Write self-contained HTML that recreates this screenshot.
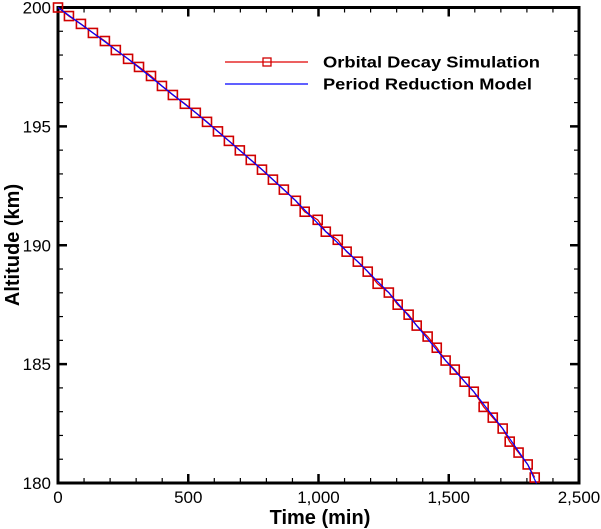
<!DOCTYPE html>
<html><head><meta charset="utf-8"><style>
html,body{margin:0;padding:0;background:#fff;}
svg{display:block;font-family:"Liberation Sans",Arial,sans-serif;}
</style></head><body>
<svg id="chart" width="601" height="529" viewBox="0 0 601 529" xmlns="http://www.w3.org/2000/svg">
<g id="grid-layer"></g>
<g id="series-layer"></g>
<g id="legend">
  <line x1="225" y1="62" x2="308" y2="62" stroke="#e00000" stroke-width="1.2"/>
  <rect x="263" y="58" width="8" height="8" fill="none" stroke="#d00000" stroke-width="1.3"/>
  <text x="323" y="67.5" font-size="16" font-weight="bold" fill="#000" textLength="217" lengthAdjust="spacingAndGlyphs">Orbital Decay Simulation</text>
  <line x1="225" y1="84" x2="308" y2="84" stroke="#0000ff" stroke-width="1.2"/>
  <text x="323" y="89.5" font-size="16" font-weight="bold" fill="#000" textLength="209" lengthAdjust="spacingAndGlyphs">Period Reduction Model</text>
</g>
<text x="320" y="524" font-size="20" font-weight="bold" text-anchor="middle">Time (min)</text>
<text transform="translate(19,245) rotate(-90)" font-size="20" font-weight="bold" text-anchor="middle">Altitude (km)</text>
</svg>
<script>
const simTimes = [0,42,88,134,180,222,269,311,357,399,441,487,529,572,614,656,698,740,783,825,867,913,947,997,1028,1074,1108,1151,1189,1227,1270,1304,1346,1377,1419,1454,1488,1523,1561,1596,1634,1669,1707,1734,1768,1803,1830];
const simAlt = [200.0,199.64,199.31,198.93,198.59,198.21,197.84,197.50,197.12,196.70,196.32,195.95,195.57,195.19,194.79,194.39,193.99,193.59,193.18,192.76,192.34,191.87,191.41,191.07,190.57,190.23,189.73,189.31,188.89,188.38,188.01,187.50,187.08,186.62,186.16,185.69,185.15,184.77,184.26,183.84,183.20,182.75,182.29,181.74,181.28,180.78,180.23];
const modelTimes = [0,134,269,399,529,656,783,913,1028,1151,1270,1377,1488,1596,1707,1803,1837];
const modelAlt = [200.0,198.93,197.84,196.70,195.57,194.39,193.18,191.87,190.57,189.31,188.01,186.62,185.15,183.84,182.29,180.78,179.98];
const xTickValues = [0,500,1000,1500,2000];
const xTickLabels = ["0","500","1,000","1,500","2,500"];
const yTickValues = [180,185,190,195,200];
const yTickLabels = ["180","185","190","195","200"];

const L=58, R=579, T=7.5, B=483, XMAX=2000, YMIN=180, YMAX=200;
const xs = t => L + (t/XMAX)*(R-L);
const ys = a => B - (a-YMIN)/(YMAX-YMIN)*(B-T);
const NS="http://www.w3.org/2000/svg";
function mk(tag, attrs, parent){const e=document.createElementNS(NS,tag);for(const k in attrs)e.setAttribute(k,attrs[k]);parent.appendChild(e);return e;}
const ax=document.getElementById('grid-layer');
const sl=document.getElementById('series-layer');

for(let t=0;t<=XMAX;t+=100){
  const x=xs(t), major=(t%500===0);
  const len=major?9:5, w=major?2.5:1.2;
  let e=mk('line',{x1:x,y1:B,x2:x,y2:B-len,stroke:'#000','stroke-width':w},ax);
  
  
  e=mk('line',{x1:x,y1:T,x2:x,y2:T+len,stroke:'#000','stroke-width':w},ax);
  
  
}
for(let a=YMIN;a<=YMAX;a+=1){
  const y=ys(a), major=(a%5===0);
  const len=major?9:5, w=major?2.5:1.2;
  let e=mk('line',{x1:L,y1:y,x2:L+len,y2:y,stroke:'#000','stroke-width':w},ax);
  
  
  e=mk('line',{x1:R,y1:y,x2:R-len,y2:y,stroke:'#000','stroke-width':w},ax);
  
  
}
xTickValues.forEach((v,i)=>{
  const e=mk('text',{x:xs(v),y:503,'font-size':17,'text-anchor':'middle'},ax);
  e.textContent=xTickLabels[i];
  
  
});
yTickValues.forEach((v,i)=>{
  const e=mk('text',{x:51,y:ys(v)+6,'font-size':17,'text-anchor':'end'},ax);
  e.textContent=yTickLabels[i];
  
  
});
const frame=mk('rect',{x:L,y:T,width:R-L,height:B-T,fill:'none',stroke:'#000','stroke-width':3},ax);



const simPts=simTimes.map((t,i)=>xs(t).toFixed(1)+','+ys(simAlt[i]).toFixed(1)).join(' ');
const sline=mk('polyline',{points:simPts,fill:'none',stroke:'#e00000','stroke-width':1.3},sl);


simTimes.forEach((t,i)=>{
  const m=mk('rect',{x:xs(t)-4.5,y:ys(simAlt[i])-4.5,width:9,height:9,fill:'none',stroke:'#d00000','stroke-width':1.6},sl);
  
  
});
const modelPts=modelTimes.map((t,i)=>xs(t).toFixed(1)+','+ys(modelAlt[i]).toFixed(1)).join(' ');
const mline=mk('polyline',{points:modelPts,fill:'none',stroke:'#0000ff','stroke-width':1.2},sl);


</script>
</body></html>
